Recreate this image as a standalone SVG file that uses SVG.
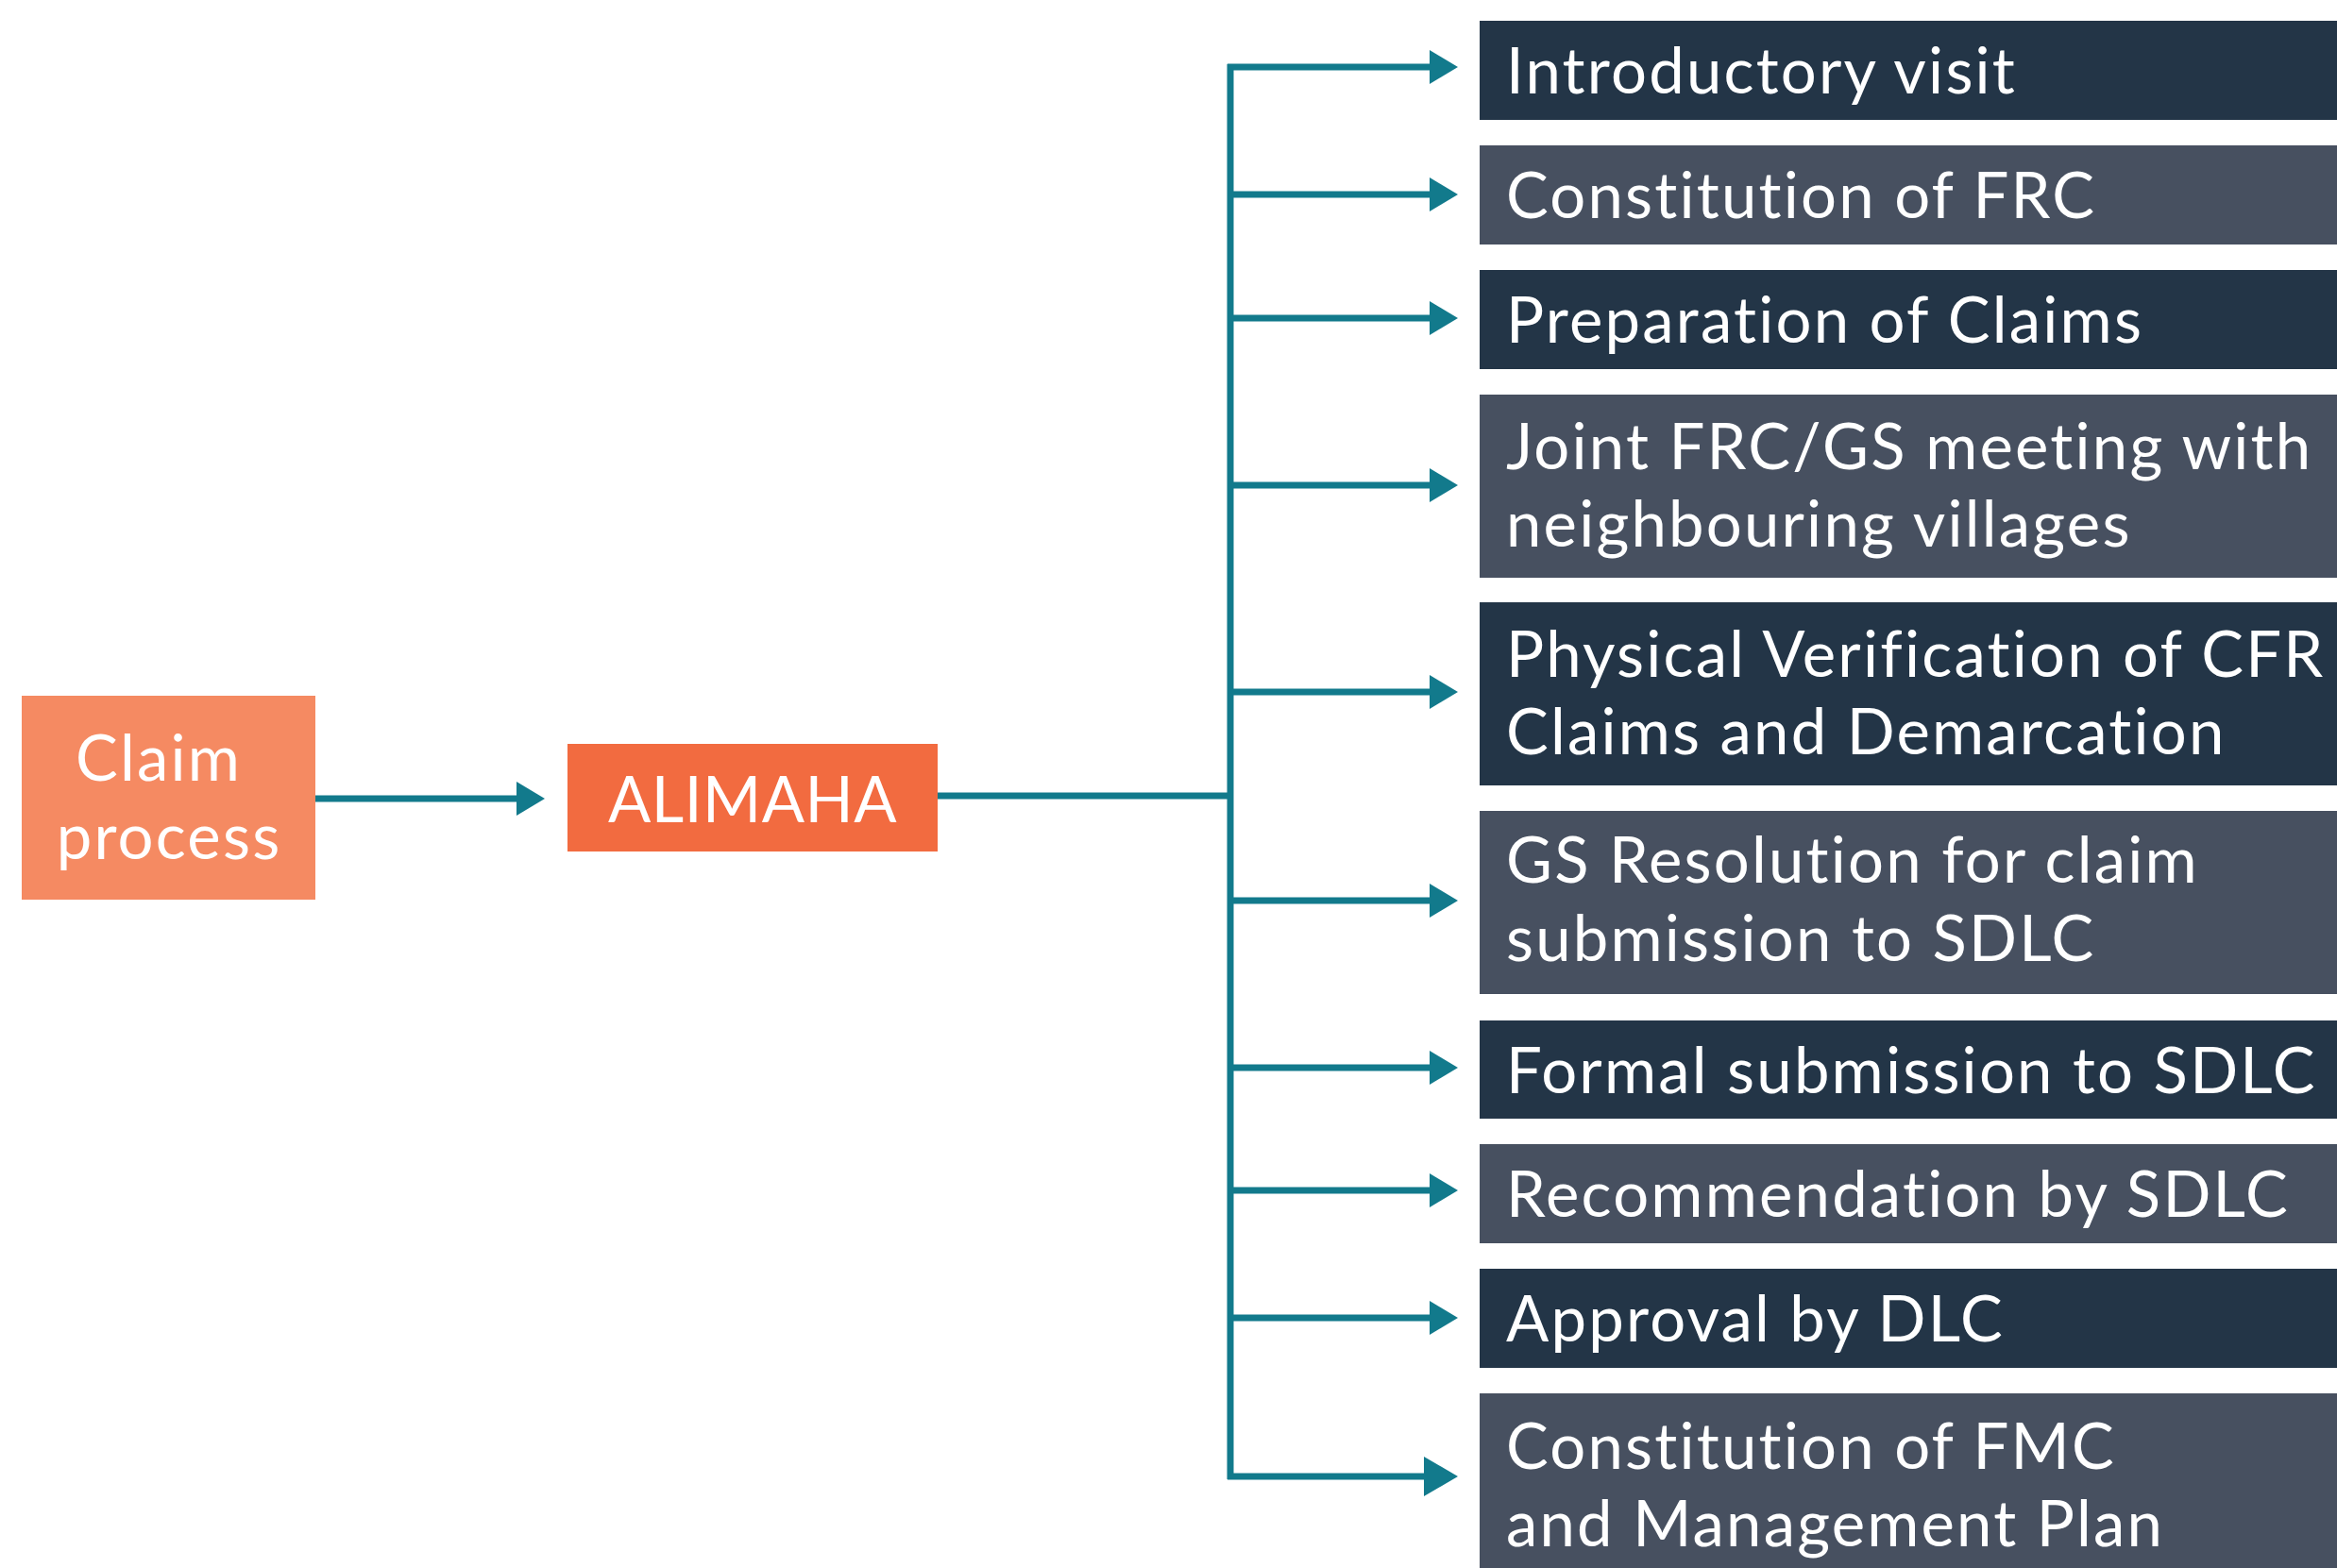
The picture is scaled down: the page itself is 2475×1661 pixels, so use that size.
<svg xmlns="http://www.w3.org/2000/svg" width="2475" height="1661" viewBox="0 0 2475 1661">
<style>
.t{font-family:Lato,"Open Sans","Liberation Sans",sans-serif;font-size:67px;fill:#fff;letter-spacing:2.2px;font-variant-ligatures:none}
.dk{fill:#233547}
.lt{fill:#475060}
.ln{stroke:#127a8c;stroke-width:7;fill:none}
</style>
<defs>
<marker id="ah" markerUnits="userSpaceOnUse" markerWidth="30" markerHeight="36" refX="0" refY="18" orient="auto" overflow="visible"><path d="M0,0 L30,18 L0,36 Z" fill="#127a8c"/></marker>
<marker id="ahL" markerUnits="userSpaceOnUse" markerWidth="36" markerHeight="42" refX="0" refY="21" orient="auto" overflow="visible"><path d="M0,0 L36,21 L0,42 Z" fill="#127a8c"/></marker>
</defs>
<rect width="2475" height="1661" fill="#fff"/>
<g id="connectors">
<path class="ln" d="M334,846 H547" marker-end="url(#ah)"/>
<path class="ln" d="M993,843 H1303"/>
<path class="ln" d="M1303,68 V1567"/>
<path class="ln" d="M1300,71 H1514" marker-end="url(#ah)"/>
<path class="ln" d="M1303,206 H1514" marker-end="url(#ah)"/>
<path class="ln" d="M1303,337 H1514" marker-end="url(#ah)"/>
<path class="ln" d="M1303,514 H1514" marker-end="url(#ah)"/>
<path class="ln" d="M1303,733 H1514" marker-end="url(#ah)"/>
<path class="ln" d="M1303,954 H1514" marker-end="url(#ah)"/>
<path class="ln" d="M1303,1131 H1514" marker-end="url(#ah)"/>
<path class="ln" d="M1303,1261 H1514" marker-end="url(#ah)"/>
<path class="ln" d="M1303,1396 H1514" marker-end="url(#ah)"/>
<path class="ln" d="M1300,1564 H1508" marker-end="url(#ahL)"/>
</g>
<g id="claim-process">
<rect x="23" y="737" width="311" height="216" fill="#f58a62"/>
<text class="t" x="168" y="827" text-anchor="middle">Claim</text>
<text class="t" x="179" y="910" text-anchor="middle">process</text>
</g>
<g id="alimaha">
<rect x="601" y="788" width="392" height="114" fill="#f26b40"/>
<text class="t" x="797" y="871" text-anchor="middle" style="letter-spacing:0.5px">ALIMAHA</text>
</g>
<g id="step1"><rect class="dk" x="1567" y="22" width="908" height="105"/><text class="t" x="1595" y="99">Introductory visit</text></g>
<g id="step2"><rect class="lt" x="1567" y="154" width="908" height="105"/><text class="t" x="1595" y="231">Constitution of FRC</text></g>
<g id="step3"><rect class="dk" x="1567" y="286" width="908" height="105"/><text class="t" x="1595" y="363">Preparation of Claims</text></g>
<g id="step4"><rect class="lt" x="1567" y="418" width="908" height="194"/><text class="t" x="1595" y="497">Joint FRC/GS meeting with</text><text class="t" x="1595" y="579">neighbouring villages</text></g>
<g id="step5"><rect class="dk" x="1567" y="638" width="908" height="194"/><text class="t" x="1595" y="717">Physical Verification of CFR</text><text class="t" x="1595" y="799">Claims and Demarcation</text></g>
<g id="step6"><rect class="lt" x="1567" y="859" width="908" height="194"/><text class="t" x="1595" y="935">GS Resolution for claim</text><text class="t" x="1595" y="1018">submission to SDLC</text></g>
<g id="step7"><rect class="dk" x="1567" y="1081" width="908" height="104"/><text class="t" x="1595" y="1158">Formal submission to SDLC</text></g>
<g id="step8"><rect class="lt" x="1567" y="1212" width="908" height="105"/><text class="t" x="1595" y="1289">Recommendation by SDLC</text></g>
<g id="step9"><rect class="dk" x="1567" y="1344" width="908" height="105"/><text class="t" x="1595" y="1421">Approval by DLC</text></g>
<g id="step10"><rect class="lt" x="1567" y="1476" width="908" height="185"/><text class="t" x="1595" y="1556">Constitution of FMC</text><text class="t" x="1595" y="1638">and Management Plan</text></g>
</svg>
